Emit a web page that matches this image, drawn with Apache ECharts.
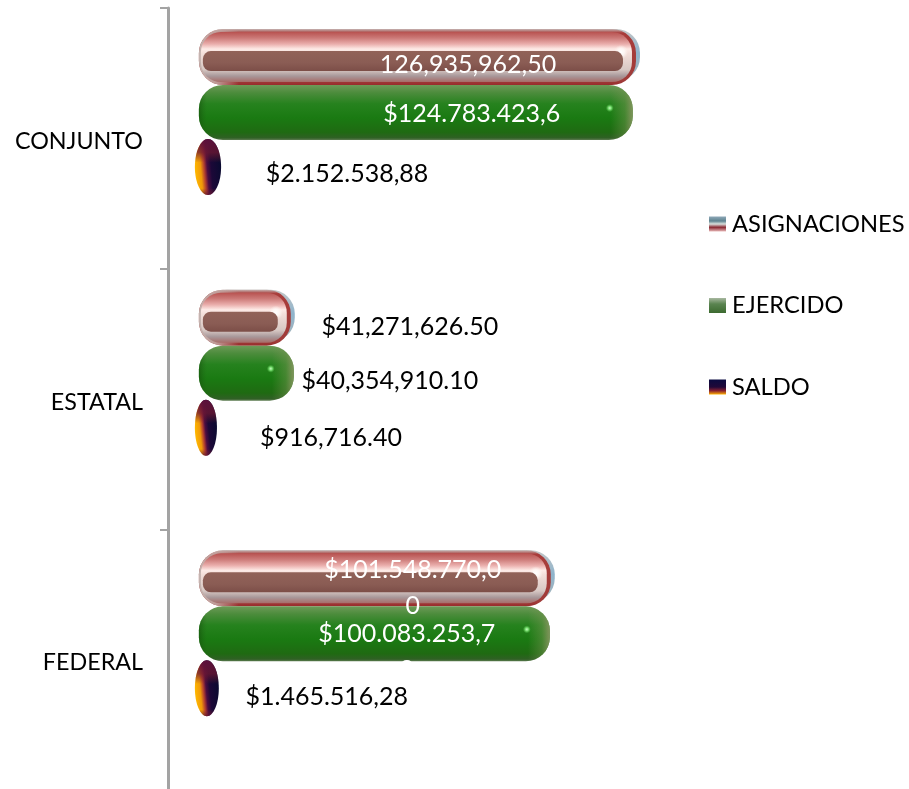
<!DOCTYPE html>
<html>
<head>
<meta charset="utf-8">
<style>html,body{margin:0;padding:0;background:#fff}#c{width:909px;height:789px}</style>
<script src="https://cdn.jsdelivr.net/npm/echarts@6/dist/echarts.min.js"></script>
</head>
<body>
<div id="c"></div>
<script>
const categories = ['CONJUNTO', 'ESTATAL', 'FEDERAL'];
const seriesNames = ['ASIGNACIONES', 'EJERCIDO', 'SALDO'];

// Bar lengths. The ESTATAL asignaciones and ejercido
// bars are drawn far shorter than their printed labels, so those two follow the bars.
const asignaciones = [126935962.5, 24100000, 101548770];
const ejercido = [124783423.63, 23800000, 100083253.72];
const saldo = [2152538.88, 916716.4, 1465516.28];

const asignacionesLabels = ['126,935,962,50', '$41,271,626.50', '$101.548.770,0\n0'];
const ejercidoLabels = ['$124.783.423,6\n3', '$40,354,910.10', '$100.083.253,7\n2'];
const saldoLabels = ['$2.152.538,88', '$916,716.40', '$1.465.516,28'];

// Layout and style only, in pixels
const FONT = 'Lato';
const FONT_SIZE = 25;
const LINE_H = 36;
const BAR_H = 56;
const CAP = 15;         // rounded cap past the value
const TOP = [-109.3, -53.3, 0.7];
const LABEL_DX = [[-157, 130, -127], [-146, 111, -128], [141, 129, 123]];
const LABEL_DY = [[35.5, 37, 20], [28.5, 35, 27.5], [34.5, 38, 36.5]];
const LABEL_FILL = [['#fff', '#000', '#fff'], ['#fff', '#000', '#fff'], ['#000', '#000', '#000']];

const grad = (x, y, x2, y2, stops) => new echarts.graphic.LinearGradient(
  x, y, x2, y2, stops.map(s => ({offset: s[0], color: s[1]})));
const radial = (stops) => new echarts.graphic.RadialGradient(.5, .5, .5, stops.map(s => ({offset: s[0], color: s[1]})));

function label(api, s, c, endX, top, texts) {
  return {
    type: 'text', z2: 100, silent: true,
    style: {
      text: texts[c], x: endX + LABEL_DX[s][c], y: top + LABEL_DY[s][c] - LINE_H / 2,
      fill: LABEL_FILL[s][c], fontFamily: FONT, fontSize: FONT_SIZE,
      lineHeight: LINE_H, align: 'center', verticalAlign: 'top'
    }
  };
}

function bar0(params, api) {
  const c = api.value(1), p = api.coord([api.value(0), c]), zero = api.coord([0, c])[0];
  const top = p[1] + TOP[0], x0 = zero, x1 = p[0] + CAP, w = x1 - x0, H = BAR_H;
  const r = 24, sw = w - 4;
  return {type: 'group', children: [
    // blue-grey sliver showing behind the right end
    {type: 'rect', shape: {x: x0 + 4, y: top, width: w - 4, height: H - 4, r},
     style: {fill: grad(0, 0, 0, 1, [[0, '#c4c6c6'], [.45, '#8fb4cc'], [1, '#a8b4b8']])}},
    // red shell
    {type: 'rect', shape: {x: x0, y: top, width: sw, height: H, r},
     style: {fill: grad(0, 0, 0, 1, [[0, '#c4b4b2'], [.07, '#a83c3a'], [.92, '#a03c3a'], [1, '#982c2c']])}},
    // grey-pink on the left of the shell
    {type: 'rect', shape: {x: x0, y: top, width: sw, height: H, r},
     style: {fill: grad(0, 0, 1, 0, [[0, 'rgba(196,180,176,1)'], [18 / sw, 'rgba(196,170,166,.85)'], [40 / sw, 'rgba(196,170,166,0)']])}},
    // glassy face
    {type: 'rect', shape: {x: x0 + 2, y: top + 3, width: sw - 6, height: H - 6, r: 20},
     style: {fill: grad(0, 0, 0, 1, [[0, '#b85250'], [.12, '#cc7a78'], [.24, '#eaaeac'], [.34, '#fdeae6'], [.42, '#f4dfda'], [.75, '#d8c8c4'], [.88, '#a8989a'], [1, '#a86c68']])}},
    // white glare by the right end
    {type: 'ellipse', shape: {cx: x1 - 19, cy: top + 23, rx: 7, ry: 14},
     style: {fill: radial([[0, 'rgba(255,255,255,1)'], [.5, 'rgba(255,250,248,.8)'], [1, 'rgba(255,245,240,0)']])}},
    // brown inner bar
    {type: 'rect', shape: {x: x0 + 4, y: top + 22, width: w - 21, height: 20, r: 8},
     style: {fill: grad(0, 0, 0, 1, [[0, '#916258'], [.6, '#8a5c54'], [1, '#7c4e48']])}},
  ]};
}

function bar1(params, api) {
  const c = api.value(1), p = api.coord([api.value(0), c]), zero = api.coord([0, c])[0];
  const top = p[1] + TOP[1], x0 = zero, x1 = p[0] + CAP, w = x1 - x0, H = BAR_H - 1;
  return {type: 'group', children: [
    {type: 'rect', shape: {x: x0, y: top, width: w, height: H, r: 24},
     style: {fill: grad(0, 0, 0, 1, [[0, '#6e9a58'], [.14, '#4c8c3c'], [.34, '#26821e'], [.6, '#1a7a12'], [.86, '#1f6a12'], [.96, '#2f6024'], [1, '#5e7c52']])}},
    {type: 'rect', shape: {x: x0, y: top, width: w, height: H, r: 24},
     style: {fill: grad(0, 0, 1, 0, [[0, 'rgba(20,70,10,.5)'], [8 / w, 'rgba(30,100,20,0)'],
       [(w - 22) / w, 'rgba(130,150,90,0)'], [(w - 8) / w, 'rgba(130,150,90,.4)'], [1, 'rgba(140,150,100,.9)']])}},
    {type: 'ellipse', shape: {cx: x1 - 23, cy: top + 23, rx: 4, ry: 8},
     style: {fill: radial([[0, '#c8fcc0'], [.45, '#70d868'], [1, 'rgba(80,180,70,0)']])}},
  ]};
}

function bar2(params, api) {
  const c = api.value(1), p = api.coord([api.value(0), c]), zero = api.coord([0, c])[0];
  const top = p[1] + TOP[2], x0 = zero - 4, x1 = p[0] + CAP;
  const shape = {cx: (x0 + x1) / 2, cy: top + BAR_H / 2, rx: (x1 - x0) / 2, ry: BAR_H / 2};
  return {type: 'group', children: [
    {type: 'ellipse', shape,
     style: {fill: grad(0, .52, 1, .48, [[0, '#ffb800'], [.22, '#f09a08'], [.36, '#b03c30'], [.47, '#4c0c40'], [.62, '#1c0838'], [1, '#0a0a30']])}},
    {type: 'ellipse', shape,
     style: {fill: grad(0, 0, 0, 1, [[0, 'rgba(90,16,60,1)'], [.24, 'rgba(110,24,50,.75)'], [.42, 'rgba(120,30,40,0)'], [.88, 'rgba(120,30,40,0)'], [1, 'rgba(90,20,50,.8)']])}},
  ]};
}

function makeItem(drawer, s, texts) {
  return (params, api) => {
    const g = drawer(params, api);
    const c = api.value(1), p = api.coord([api.value(0), c]);
    const top = p[1] + TOP[s];
    g.children.push(label(api, s, c, p[0], top, texts));
    return g;
  };
}

const legendFills = [
  grad(0, 0, 0, 1, [[0, '#8ea8b8'], [.3, '#5f8490'], [.5, '#d8e0dc'], [.72, '#8a2a34'], [1, '#e8b8b8']]),
  grad(0, 0, 0, 1, [[0, '#a8b8a0'], [.4, '#5a8450'], [1, '#3c6a30']]),
  grad(0, 0, 0, 1, [[0, '#0a0a40'], [.5, '#200838'], [.75, '#8a2030'], [1, '#ffb000']])
];

function toData(arr) { return arr.map((v, i) => [v, i]); }

const chart = echarts.init(document.getElementById('c'), null, {renderer: 'canvas'});
chart.setOption({
  animation: false,
  backgroundColor: '#fff',
  grid: {left: 168, top: 8, width: 534.4, height: 782, containLabel: false, outerBoundsMode: 'none'},
  xAxis: {type: 'value', min: -9.2e6, max: 150e6, show: false},
  yAxis: {
    type: 'category', data: categories, inverse: true,
    axisLine: {show: true, onZero: false, lineStyle: {color: '#a3a3a3', width: 3}},
    axisTick: {show: true, length: 8, lineStyle: {color: '#a3a3a3', width: 2}},
    axisLabel: {
      margin: 25,
      formatter: v => '{a|' + v + '}',
      rich: {a: {fontFamily: FONT, fontSize: 23.3, color: '#000', padding: [6, 0, 0, 0]}}
    },
    splitLine: {show: false}
  },
  legend: {
    show: true, orient: 'vertical', left: 709, top: 212, itemWidth: 17, itemHeight: 15,
    itemGap: 57.5, icon: 'rect', selectedMode: false, padding: 0,
    textStyle: {fontFamily: FONT, fontSize: 23.7, color: '#000', lineHeight: 24, padding: [0, 0, 0, 1]},
    data: seriesNames
  },
  series: [
    {name: seriesNames[0], type: 'custom', clip: false, itemStyle: {color: legendFills[0]}, encode: {x: 0, y: 1},
     renderItem: makeItem(bar0, 0, asignacionesLabels), data: toData(asignaciones)},
    {name: seriesNames[1], type: 'custom', clip: false, itemStyle: {color: legendFills[1]}, encode: {x: 0, y: 1},
     renderItem: makeItem(bar1, 1, ejercidoLabels), data: toData(ejercido)},
    {name: seriesNames[2], type: 'custom', clip: false, itemStyle: {color: legendFills[2]}, encode: {x: 0, y: 1},
     renderItem: makeItem(bar2, 2, saldoLabels), data: toData(saldo)}
  ]
});
</script>
</body>
</html>
